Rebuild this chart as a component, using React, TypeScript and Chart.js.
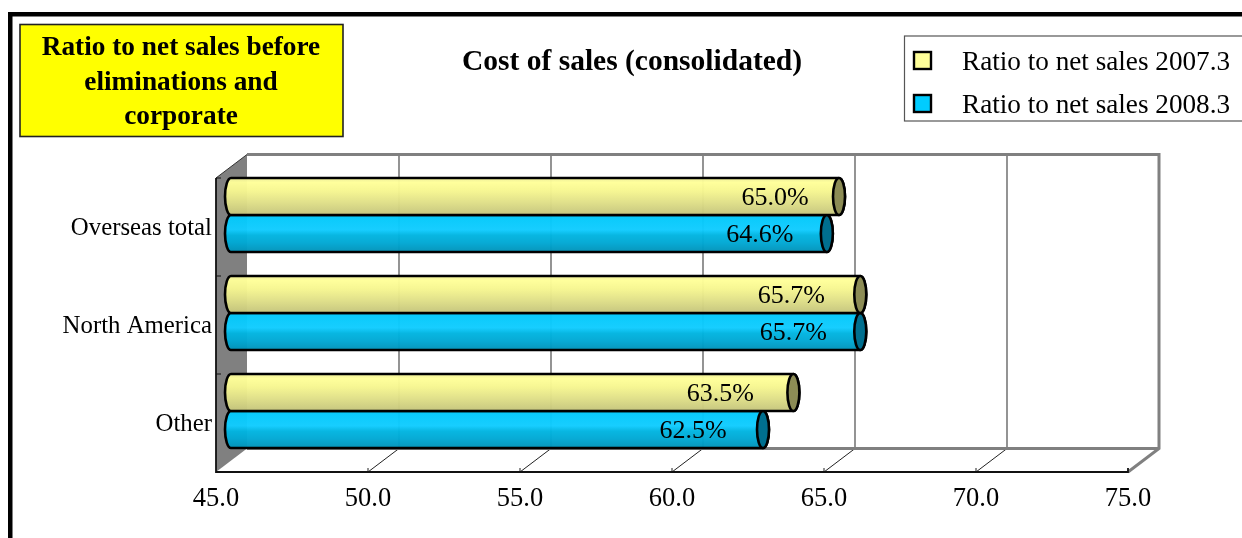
import React, { useEffect, useRef } from "react";
import { Chart, registerables } from "chart.js";

Chart.register(...registerables);

const categories = ["Overseas total", "North America", "Other"];
const series2007 = [65.0, 65.7, 63.5];
const series2008 = [64.6, 65.7, 62.5];
const seriesNames = ["Ratio to net sales 2007.3", "Ratio to net sales 2008.3"];
const legendColors = ["#FFFF99", "#00CCFF"];
const capColors = ["#8C8C55", "#006F8F"];
const chartTitle = "Cost of sales (consolidated)";
const noteLines = ["Ratio to net sales before", "eliminations and", "corporate"];
const axisMin = 45;
const axisMax = 75;
const axisStep = 5;

const SERIF = '"Liberation Serif", "Times New Roman", serif';
const GRAY = "#808080";
const DEPTH_X = 31;
const DEPTH_Y = 23.5;
const BAR_DX = 15;
const BAR_DY = -12;
const CAP_RX = 6;
const labelShift = [
  [-64, -67],
  [-69, -67],
  [-73, -70],
];
const gradientStops = [
  [
    [0, "#EDED98"],
    [0.12, "#FFFF99"],
    [0.35, "#F6F690"],
    [0.65, "#E0E088"],
    [1, "#C4C47C"],
  ],
  [
    [0, "#00C8FA"],
    [0.4, "#10CCFF"],
    [0.55, "#00B4E0"],
    [0.75, "#00A8D4"],
    [1, "#0092B8"],
  ],
];

const framePlugin = {
  id: "frame3d",
  beforeDraw(chart: any) {
    const { ctx, width, height } = chart;
    ctx.save();
    ctx.fillStyle = "#FFFFFF";
    ctx.fillRect(0, 0, width, height);
    // page frame
    ctx.fillStyle = "#000000";
    ctx.fillRect(8, 12, width - 8, 4.5);
    ctx.fillRect(8, 12, 4.5, height - 12);

    // note box
    ctx.fillStyle = "#FFFF00";
    ctx.fillRect(20, 25, 323, 111);
    ctx.strokeStyle = "#222222";
    ctx.lineWidth = 1.6;
    ctx.strokeRect(20, 24.5, 323, 112);
    ctx.fillStyle = "#000000";
    ctx.font = `bold 27.3px ${SERIF}`;
    ctx.textAlign = "center";
    ctx.textBaseline = "middle";
    noteLines.forEach((t, i) => ctx.fillText(t, 181, 48 + i * 34.5));

    // title
    ctx.font = `bold 29.5px ${SERIF}`;
    ctx.fillText(chartTitle, 632, 62.5);

    // legend
    ctx.strokeStyle = "#555555";
    ctx.lineWidth = 1.2;
    ctx.strokeRect(904.5, 36, 345, 85);
    ctx.font = `27.2px ${SERIF}`;
    ctx.textAlign = "left";
    seriesNames.forEach((t, i) => {
      const cy = 61 + i * 43;
      ctx.fillStyle = legendColors[i];
      ctx.fillRect(914, cy - 9, 17, 17);
      ctx.strokeStyle = "#000000";
      ctx.lineWidth = 2.4;
      ctx.strokeRect(914, cy - 9, 17, 17);
      ctx.fillStyle = "#000000";
      ctx.fillText(t, 962, cy + 1.5);
    });
    ctx.restore();
  },
  beforeDatasetsDraw(chart: any) {
    const { ctx, chartArea, scales } = chart;
    const { left, right, top, bottom } = chartArea;
    const xs = scales.x;
    ctx.save();
    // left wall
    ctx.fillStyle = GRAY;
    ctx.beginPath();
    ctx.moveTo(left, top);
    ctx.lineTo(left + DEPTH_X, top - DEPTH_Y);
    ctx.lineTo(left + DEPTH_X, bottom - DEPTH_Y);
    ctx.lineTo(left, bottom);
    ctx.closePath();
    ctx.fill();

    // back wall grid lines
    ctx.strokeStyle = "#5A5A5A";
    ctx.lineWidth = 1.3;
    xs.ticks.slice(1, -1).forEach((t: any) => {
      const x = xs.getPixelForValue(t.value) + DEPTH_X;
      ctx.beginPath();
      ctx.moveTo(x, top - DEPTH_Y);
      ctx.lineTo(x, bottom - DEPTH_Y);
      ctx.stroke();
    });
    // floor lines
    ctx.strokeStyle = "#222222";
    ctx.lineWidth = 1;
    xs.ticks.slice(1, -1).forEach((t: any) => {
      const x = xs.getPixelForValue(t.value);
      ctx.beginPath();
      ctx.moveTo(x, bottom);
      ctx.lineTo(x + DEPTH_X, bottom - DEPTH_Y);
      ctx.stroke();
      ctx.beginPath();
      ctx.moveTo(x, bottom);
      ctx.lineTo(x, bottom - 4);
      ctx.stroke();
    });
    // back wall border
    ctx.strokeStyle = GRAY;
    ctx.lineWidth = 3;
    ctx.beginPath();
    ctx.moveTo(left + DEPTH_X, top - DEPTH_Y);
    ctx.lineTo(right + DEPTH_X, top - DEPTH_Y);
    ctx.lineTo(right + DEPTH_X, bottom - DEPTH_Y);
    ctx.lineTo(right, bottom);
    ctx.moveTo(right + DEPTH_X, bottom - DEPTH_Y);
    ctx.lineTo(left + DEPTH_X, bottom - DEPTH_Y);
    ctx.stroke();

    // top of wall
    ctx.strokeStyle = "#333333";
    ctx.lineWidth = 1;
    ctx.beginPath();
    ctx.moveTo(left, top);
    ctx.lineTo(left + DEPTH_X, top - DEPTH_Y);
    ctx.stroke();

    // front axes
    ctx.strokeStyle = "#111111";
    ctx.lineWidth = 1.8;
    ctx.beginPath();
    ctx.moveTo(left, top);
    ctx.lineTo(left, bottom);
    ctx.lineTo(right, bottom);
    ctx.lineTo(right, bottom - 4);
    ctx.stroke();
    ctx.lineWidth = 1;
    const band = (bottom - top) / categories.length;
    for (let i = 0; i <= categories.length; i++) {
      const y = top + i * band;
      ctx.beginPath();
      ctx.moveTo(left, y);
      ctx.lineTo(left + 5, y);
      ctx.stroke();
    }
    ctx.restore();
  },
  beforeDatasetDraw(chart: any, args: any) {
    const { ctx, scales } = chart;
    const index = args.index;
    const x0 = scales.x.getPixelForValue(axisMin) + BAR_DX;
    const stops = gradientStops[index];
    ctx.save();
    ctx.lineWidth = 2.6;
    ctx.strokeStyle = "#000000";
    args.meta.data.forEach((el: any) => {
      const { x, y, height } = el.getProps(["x", "y", "height"], true);
      const x1 = x + BAR_DX;
      const cy = y + BAR_DY;
      const ry = height / 2;
      const grad = ctx.createLinearGradient(0, cy - ry, 0, cy + ry);
      stops.forEach(([o, c]: any) => grad.addColorStop(o, c));
      const body = new Path2D();
      body.moveTo(x0, cy - ry);
      body.lineTo(x1, cy - ry);
      body.ellipse(x1, cy, CAP_RX, ry, 0, -Math.PI / 2, Math.PI / 2);
      body.lineTo(x0, cy + ry);
      body.ellipse(x0, cy, CAP_RX, ry, 0, Math.PI / 2, (3 * Math.PI) / 2);
      body.closePath();
      ctx.globalAlpha = 0.97;
      ctx.fillStyle = grad;
      ctx.fill(body);
      ctx.globalAlpha = 1;
      ctx.stroke(body);
      ctx.beginPath();
      ctx.ellipse(x1, cy, CAP_RX, ry, 0, 0, Math.PI * 2);
      ctx.fillStyle = capColors[index];
      ctx.fill();
      ctx.stroke();
    });
    ctx.restore();
    return false;
  },
  afterDatasetsDraw(chart: any) {
    const { ctx } = chart;
    ctx.save();
    ctx.fillStyle = "#000000";
    ctx.font = `26px ${SERIF}`;
    ctx.textAlign = "center";
    ctx.textBaseline = "middle";
    chart.data.datasets.forEach((ds: any, di: number) => {
      chart.getDatasetMeta(di).data.forEach((el: any, i: number) => {
        const { x, y } = el.getProps(["x", "y"], true);
        ctx.fillText(
          `${ds.data[i].toFixed(1)}%`,
          x + BAR_DX + labelShift[i][di],
          y + BAR_DY + 2
        );
      });
    });
    ctx.restore();
  },
};

export default function App() {
  const ref = useRef<HTMLCanvasElement>(null);
  useEffect(() => {
    const chart = new Chart(ref.current as HTMLCanvasElement, {
      type: "bar",
      data: {
        labels: categories,
        datasets: [
          { label: seriesNames[0], data: series2007, backgroundColor: legendColors[0] },
          { label: seriesNames[1], data: series2008, backgroundColor: legendColors[1] },
        ],
      },
      options: {
        indexAxis: "y",
        responsive: false,
        animation: false,
        devicePixelRatio: 1,
        categoryPercentage: 0.755,
        barPercentage: 1,
        layout: { padding: { top: 178, right: 114, left: 0, bottom: 0 } },
        plugins: {
          legend: { display: false },
          title: { display: false },
          tooltip: { enabled: false },
        },
        scales: {
          x: {
            type: "linear",
            min: axisMin,
            max: axisMax,
            afterFit(s: any) {
              s.height = 66;
            },
            grid: { display: false, drawTicks: false },
            border: { display: false },
            ticks: {
              stepSize: axisStep,
              maxRotation: 0,
              autoSkip: false,
              padding: 11,
              color: "#000000",
              font: { family: SERIF, size: 26.5 },
              callback: (v: any) => Number(v).toFixed(1),
            },
          },
          y: {
            afterFit(s: any) {
              s.width = 216;
            },
            grid: { display: false, drawTicks: false },
            border: { display: false },
            ticks: {
              padding: 4,
              labelOffset: 1,
              color: "#000000",
              font: { family: SERIF, size: 24.8 },
            },
          },
        },
      } as any,
      plugins: [framePlugin as any],
    });
    return () => chart.destroy();
  }, []);
  return (
    <div style={{ position: "absolute", left: 0, top: 0, width: 1242, height: 538, overflow: "hidden" }}>
      <canvas ref={ref} width={1242} height={538} style={{ display: "block" }} />
    </div>
  );
}
